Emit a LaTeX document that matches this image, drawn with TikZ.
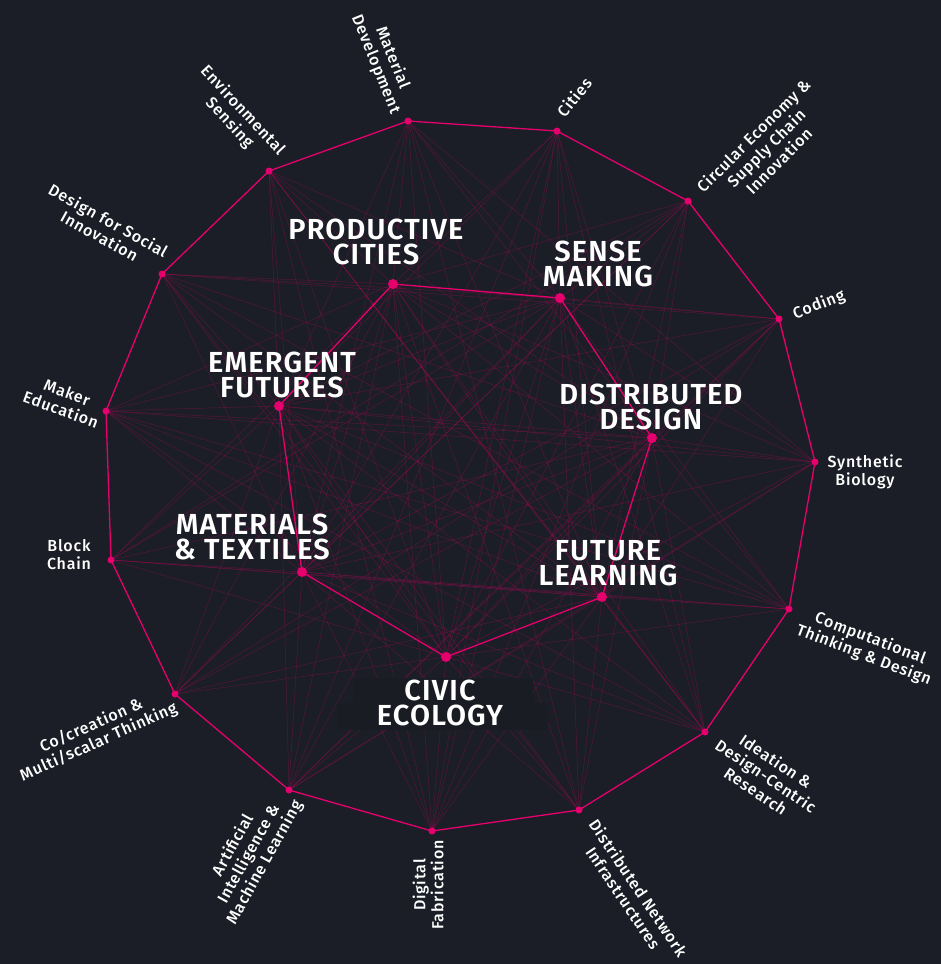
\documentclass[tikz,border=0pt]{standalone}
\usepackage{fontspec}
\setmainfont{Fira Sans}
\newfontfamily\topicfont{Fira Sans}[UprightFont=* Medium, LetterSpace=5]
\newfontfamily\hubfont{Fira Sans}[UprightFont=* SemiBold, LetterSpace=4]
\definecolor{bgdark}{RGB}{27,30,38}
\definecolor{hotpink}{RGB}{230,0,110}
\tikzset{
  web/.style={hotpink, line width=0.5pt, opacity=0.28},
  ring/.style={hotpink, line width=1.3pt},
  outerdot/.style={circle, fill=hotpink, inner sep=0pt, minimum size=7pt},
  innerdot/.style={circle, fill=hotpink, inner sep=0pt, minimum size=10pt},
  topic/.style={text=white, font=\topicfont\fontsize{16}{18}\selectfont, align=center, inner sep=0pt},
  hub/.style={text=white, font=\hubfont\fontsize{29}{25}\selectfont, align=center, inner sep=0pt},
  civicbox/.style={fill=bgdark!95!black},
}
\begin{document}
\begin{tikzpicture}[x=1pt, y=-1pt]
\fill[bgdark] (0,0) rectangle (941,964);
\useasboundingbox (0,0) rectangle (941,964);
% outer ring
\coordinate (matdev) at (408,121);
\coordinate (cities) at (557,131);
\coordinate (circular) at (688,201);
\coordinate (coding) at (779,319);
\coordinate (synbio) at (815,462);
\coordinate (comput) at (789,609);
\coordinate (ideation) at (705,732);
\coordinate (distnet) at (579,810);
\coordinate (digfab) at (432,831);
\coordinate (ai) at (289,790);
\coordinate (cocreation) at (175,694);
\coordinate (blockchain) at (111,560);
\coordinate (maker) at (106,411);
\coordinate (social) at (162,274);
\coordinate (envsens) at (269,171);
% hubs
\coordinate (prodcities) at (393,284);
\coordinate (sensemaking) at (560,298);
\coordinate (distdesign) at (652,438);
\coordinate (futlearn) at (602,597);
\coordinate (civic) at (446,657);
\coordinate (materials) at (302,572);
\coordinate (emergent) at (279,406);
% web
\foreach \o in {matdev,cities,circular,coding,synbio,comput,ideation,distnet,digfab,ai,cocreation,blockchain,maker,social,envsens}
  \foreach \h in {prodcities,sensemaking,distdesign,futlearn,civic,materials,emergent}
    \draw[web] (\o) -- (\h);
\foreach \a/\b in {matdev/synbio, matdev/distnet, cities/ideation, cities/ai, circular/digfab, circular/blockchain,
  coding/cocreation, coding/social, synbio/maker, synbio/ai, comput/social, comput/blockchain, ideation/maker,
  ideation/envsens, distnet/social, digfab/envsens, digfab/cities, ai/coding, cocreation/circular,
  maker/comput, envsens/ideation}
  \draw[web] (\a) -- (\b);
\foreach \a/\b in {prodcities/distdesign, prodcities/futlearn, prodcities/civic, prodcities/materials,
  sensemaking/futlearn, sensemaking/civic, sensemaking/materials, sensemaking/emergent,
  distdesign/civic, distdesign/materials, distdesign/emergent, futlearn/materials, futlearn/emergent, civic/emergent}
  \draw[web] (\a) -- (\b);
\fill[civicbox] (353,678) rectangle (533,704);
\fill[civicbox] (338,703) rectangle (548,730);
\draw[ring] (matdev) -- (cities) -- (circular) -- (coding) -- (synbio) -- (comput) -- (ideation) -- (distnet)
  -- (digfab) -- (ai) -- (cocreation) -- (blockchain) -- (maker) -- (social) -- (envsens) -- cycle;
\draw[ring] (emergent) -- (prodcities) -- (sensemaking) -- (distdesign) -- (futlearn) -- (civic) -- (materials) -- cycle;
\foreach \o in {matdev,cities,circular,coding,synbio,comput,ideation,distnet,digfab,ai,cocreation,blockchain,maker,social,envsens}
  \node[outerdot] (\o-dot) at (\o) {};
\foreach \h in {prodcities,sensemaking,distdesign,futlearn,civic,materials,emergent}
  \node[innerdot] (\h-dot) at (\h) {};
% hub labels
\node[hub] (prodcities-label) at (376,242) {PRODUCTIVE\\CITIES};
\node[hub] (sensemaking-label) at (598,264) {SENSE\\MAKING};
\node[hub] (emergent-label) at (282,375) {EMERGENT\\FUTURES};
\node[hub] (distdesign-label) at (651,407) {DISTRIBUTED\\DESIGN};
\node[hub] (materials-label) at (252,537) {MATERIALS\\\& TEXTILES};
\node[hub] (futlearn-label) at (608,563) {FUTURE\\LEARNING};
\node[hub] (civic-label) at (440,703) {CIVIC\\ECOLOGY};
% topic labels
\node[topic, rotate=-68] (matdev-label) at (384,61) {Material\\Development};
\node[topic, rotate=51] (cities-label) at (574,97) {Cities};
\node[topic, rotate=45] (circular-label) at (766,148) {Circular Economy \&\\Supply Chain\\Innovation};
\node[topic, rotate=21] (coding-label) at (819,305) {Coding};
\node[topic] (synbio-label) at (865,472) {Synthetic\\Biology};
\node[topic, rotate=-21] (comput-label) at (867,647) {Computational\\Thinking \& Design};
\node[topic, rotate=-34] (ideation-label) at (766,776) {Ideation \&\\Design-Centric\\Research};
\node[topic, rotate=-56] (distnet-label) at (631,893) {Distributed Network\\Infrastructures};
\node[topic, rotate=90] (digfab-label) at (428,885) {Digital\\Fabrication};
\node[topic, rotate=61] (ai-label) at (249,854) {Artificial\\Intelligence \&\\Machine Learning};
\node[topic, rotate=24] (cocreation-label) at (95,734) {Co/creation \&\\Multi/scalar Thinking};
\node[topic] (blockchain-label) at (69,555) {Block\\Chain};
\node[topic, rotate=-20] (maker-label) at (64,401) {Maker\\Education};
\node[topic, rotate=-29] (social-label) at (104,228) {Design for Social\\Innovation};
\node[topic, rotate=-47] (envsens-label) at (236,117) {Environmental\\Sensing};
\end{tikzpicture}
\end{document}
